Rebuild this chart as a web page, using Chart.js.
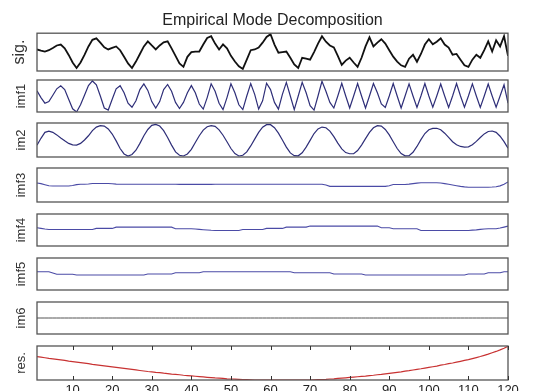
<!DOCTYPE html>
<html><head><meta charset="utf-8">
<script src="https://cdn.jsdelivr.net/npm/chart.js@4.4.1/dist/chart.umd.min.js"></script>
<style>
html,body{margin:0;padding:0;background:#fff;overflow:hidden;width:536px;height:391px;position:relative;}
canvas{position:absolute;left:0;}
</style></head><body>
<script>
// ---- data ----
const samples = Array.from({length: 120}, (_, i) => i + 1);
const xTickLabels = [10, 20, 30, 40, 50, 60, 70, 80, 90, 100, 110, 120];
const panelLabels = ['sig.', 'imf1', 'im2', 'imf3', 'imf4', 'imf5', 'im6', 'res.'];
const titleText = 'Empirical Mode Decomposition';

const sig = [0.14,0.08,0.03,0.10,0.22,0.35,0.40,0.20,-0.15,-0.55,
-0.84,-0.55,-0.15,0.30,0.65,0.73,0.50,0.25,0.14,0.22,
0.30,0.10,-0.25,-0.60,-0.84,-0.50,-0.10,0.30,0.57,0.35,
0.14,0.35,0.52,0.57,0.20,-0.20,-0.60,-0.78,-0.25,0.00,
0.03,0.03,0.40,0.75,0.84,0.45,0.14,0.41,0.20,-0.20,
-0.50,-0.75,-0.89,-0.40,0.10,0.14,0.24,0.50,0.80,0.95,
0.40,-0.03,0.00,0.03,-0.30,-0.65,-0.84,-0.30,-0.35,-0.40,
0.00,0.45,0.84,0.55,0.35,0.25,-0.20,-0.68,-0.45,-0.30,
-0.55,-0.78,-0.30,0.30,0.78,0.30,0.50,0.68,0.45,0.10,
-0.24,-0.50,-0.70,-0.78,-0.35,-0.14,-0.51,-0.10,0.40,0.68,
0.41,0.55,0.73,0.40,0.24,-0.14,-0.10,-0.40,-0.70,-0.78,
-0.40,-0.14,-0.30,0.10,0.57,0.03,0.62,0.30,0.84,-0.20];

const imf1 = [0.33,-0.10,-0.45,-0.35,0.05,0.45,0.64,0.40,-0.20,-0.80,
-1.00,-0.55,0.05,0.65,0.94,0.70,0.00,-0.75,-0.88,-0.20,
0.45,0.64,0.20,-0.45,-0.70,-0.30,0.40,0.76,0.35,-0.35,
-0.76,-0.35,0.40,0.72,0.30,-0.40,-0.78,-0.40,0.20,0.65,
0.20,-0.50,-0.82,-0.10,0.76,0.30,-0.45,-0.85,-0.10,0.76,
0.20,-0.55,-0.85,0.00,0.78,0.10,-0.82,-0.30,0.80,0.40,
-0.40,-0.82,0.10,0.85,0.00,-0.85,0.00,0.85,0.20,-0.60,
-0.88,0.00,0.92,0.30,-0.40,-0.75,0.00,0.80,0.00,-0.75,
0.00,0.78,0.00,-0.75,0.00,0.78,0.20,-0.50,-0.72,0.00,
0.78,0.00,-0.75,0.00,0.76,0.00,-0.72,0.00,0.78,0.00,
-0.70,0.00,0.75,0.00,-0.72,0.00,0.78,0.00,-0.70,0.00,
0.76,0.00,-0.72,0.00,0.75,0.00,-0.70,0.00,0.70,-0.45];

const imf2 = [-0.30,0.10,0.45,0.52,0.45,0.30,0.12,-0.05,-0.20,-0.29,
-0.30,-0.20,0.00,0.25,0.55,0.76,0.84,0.82,0.65,0.35,
-0.05,-0.50,-0.82,-0.94,-0.85,-0.60,-0.20,0.25,0.62,0.86,
0.92,0.82,0.55,0.15,-0.30,-0.70,-0.90,-0.94,-0.82,-0.55,
-0.15,0.25,0.58,0.78,0.84,0.80,0.60,0.28,-0.10,-0.50,
-0.80,-0.94,-0.90,-0.70,-0.35,0.05,0.45,0.75,0.90,0.90,
0.72,0.40,0.00,-0.42,-0.76,-0.92,-0.93,-0.75,-0.42,-0.02,
0.38,0.65,0.76,0.72,0.52,0.20,-0.18,-0.52,-0.74,-0.81,
-0.80,-0.62,-0.30,0.08,0.45,0.72,0.84,0.82,0.62,0.30,
-0.10,-0.50,-0.80,-0.93,-0.92,-0.72,-0.38,0.02,0.38,0.60,
0.68,0.69,0.60,0.40,0.15,-0.10,-0.28,-0.38,-0.42,-0.40,
-0.28,-0.08,0.15,0.36,0.50,0.53,0.45,0.22,-0.10,-0.48];

const imf3 = [0.12,0.08,0.02,-0.04,-0.06,-0.06,-0.06,-0.06,-0.06,-0.03,
0.02,0.04,0.04,0.06,0.09,0.09,0.09,0.09,0.09,0.07,
0.05,0.04,0.04,0.04,0.04,0.04,0.04,0.04,0.04,0.04,
0.04,0.04,0.04,0.04,0.04,0.04,0.035,0.035,0.035,0.035,
0.035,0.035,0.035,0.035,0.035,0.045,0.045,0.045,0.045,0.045,
0.045,0.045,0.045,0.045,0.045,0.045,0.04,0.04,0.04,0.04,
0.04,0.04,0.04,0.04,0.04,0.045,0.045,0.045,0.045,0.045,
0.045,0.045,0.045,0.00,-0.08,-0.08,-0.08,-0.08,-0.08,-0.08,
-0.08,-0.08,-0.08,-0.08,-0.08,-0.08,-0.08,-0.08,-0.08,-0.04,
0.03,0.03,0.03,0.03,0.05,0.08,0.11,0.13,0.13,0.13,
0.13,0.13,0.12,0.08,0.04,0.00,-0.04,-0.08,-0.11,-0.13,
-0.13,-0.13,-0.13,-0.13,-0.13,-0.12,-0.10,-0.05,0.05,0.18];

const imf4 = [0.14,0.10,0.06,0.03,0.03,0.03,0.03,0.03,0.03,0.03,
0.03,0.03,0.03,0.03,0.03,0.10,0.10,0.10,0.10,0.10,
0.18,0.18,0.18,0.18,0.18,0.18,0.18,0.18,0.18,0.18,
0.18,0.18,0.18,0.18,0.18,0.08,0.08,0.08,0.08,0.08,
0.06,0.04,0.02,0.00,-0.02,-0.03,-0.03,-0.03,-0.03,-0.03,
-0.03,-0.03,0.03,0.03,0.03,0.03,0.03,0.03,0.10,0.10,
0.10,0.10,0.10,0.18,0.18,0.18,0.18,0.18,0.18,0.245,
0.245,0.245,0.245,0.245,0.245,0.245,0.245,0.245,0.245,0.245,
0.245,0.245,0.245,0.245,0.245,0.245,0.245,0.14,0.14,0.14,
0.08,0.08,0.08,0.08,0.08,0.08,0.08,-0.03,-0.03,-0.03,
-0.03,-0.03,-0.03,-0.03,-0.03,-0.03,-0.03,-0.03,-0.03,-0.03,
-0.01,0.01,0.04,0.06,0.08,0.08,0.08,0.12,0.18,0.245];

const imf5 = [0.14,0.14,0.14,0.14,0.06,-0.02,-0.02,-0.02,-0.02,-0.02,
-0.06,-0.06,-0.06,-0.06,-0.06,-0.06,-0.06,-0.06,-0.06,-0.06,
-0.06,-0.06,-0.06,-0.06,-0.06,-0.06,-0.06,-0.06,0.00,0.00,
0.00,0.00,0.00,0.00,0.00,0.08,0.08,0.08,0.08,0.08,
0.08,0.08,0.14,0.14,0.14,0.14,0.14,0.14,0.14,0.14,
0.14,0.14,0.14,0.14,0.14,0.14,0.14,0.14,0.14,0.14,
0.14,0.14,0.14,0.14,0.14,0.08,0.08,0.08,0.08,0.08,
0.08,0.08,0.08,0.08,0.08,0.00,0.00,0.00,0.00,0.00,
0.00,0.00,0.00,-0.06,-0.06,-0.06,-0.06,-0.06,-0.06,-0.06,
-0.06,-0.06,-0.06,-0.06,-0.06,-0.06,-0.06,-0.06,-0.06,-0.06,
-0.06,-0.06,-0.06,-0.06,-0.06,-0.06,-0.06,-0.06,-0.06,0.00,
0.00,0.00,0.00,0.00,0.08,0.08,0.08,0.08,0.14,0.14];

const imf6 = [0,0,0,0,0,0,0,0,0,0, 0,0,0,0,0,0,0,0,0,0,
0,0,0,0,0,0,0,0,0,0, 0,0,0,0,0,0,0,0,0,0,
0,0,0,0,0,0,0,0,0,0, 0,0,0,0,0,0,0,0,0,0,
0,0,0,0,0,0,0,0,0,0, 0,0,0,0,0,0,0,0,0,0,
0,0,0,0,0,0,0,0,0,0, 0,0,0,0,0,0,0,0,0,0,
0,0,0,0,0,0,0,0,0,0, 0,0,0,0,0,0,0,0,0,0];

const res = [0.37,0.34,0.31,0.27,0.24,0.21,0.18,0.15,0.11,0.08,
0.05,0.02,-0.01,-0.04,-0.08,-0.11,-0.14,-0.17,-0.20,-0.23,
-0.26,-0.29,-0.32,-0.35,-0.38,-0.41,-0.44,-0.47,-0.50,-0.52,
-0.55,-0.57,-0.60,-0.62,-0.65,-0.67,-0.69,-0.72,-0.74,-0.76,
-0.78,-0.80,-0.82,-0.84,-0.86,-0.88,-0.89,-0.91,-0.93,-0.94,
-0.95,-0.96,-0.97,-0.98,-0.99,-1.00,-1.00,-1.00,-1.00,-1.00,
-1.00,-1.00,-1.00,-1.00,-1.00,-1.00,-1.00,-1.00,-1.00,-1.00,
-0.99,-0.98,-0.97,-0.96,-0.94,-0.93,-0.91,-0.89,-0.87,-0.85,
-0.83,-0.81,-0.79,-0.77,-0.74,-0.72,-0.69,-0.67,-0.64,-0.61,
-0.58,-0.55,-0.52,-0.48,-0.45,-0.41,-0.37,-0.34,-0.30,-0.26,
-0.22,-0.18,-0.13,-0.09,-0.04,0.00,0.05,0.10,0.15,0.20,
0.26,0.32,0.38,0.45,0.52,0.60,0.68,0.77,0.87,0.98];

// ---- drawing ----
const FONT = '"Liberation Sans", Arial, Helvetica, sans-serif';
const W = 536, AREA_LEFT = 37, AREA_RIGHT = 508;

const boxPlugin = {
  id: 'box',
  afterDatasetsDraw(chart, args, opts) {
    const {ctx, chartArea: a} = chart;
    ctx.save();
    ctx.strokeStyle = '#555';
    ctx.lineWidth = 1.3;
    ctx.strokeRect(a.left, a.top, a.width, a.height);
    if (opts.ticks) {
      const xs = chart.scales.x;
      ctx.lineWidth = 1;
      ctx.strokeStyle = '#333';
      opts.ticks.forEach(v => {
        const px = Math.round(xs.getPixelForValue(v)) + 0.5;
        ctx.beginPath();
        ctx.moveTo(px, a.top); ctx.lineTo(px, a.top + 4);
        ctx.moveTo(px, a.bottom); ctx.lineTo(px, a.bottom - 4);
        ctx.stroke();
      });
    }
    ctx.restore();
  }
};

function panel(p) {
  const cv = document.createElement('canvas');
  cv.width = W; cv.height = p.ch;
  cv.style.top = p.ct + 'px';
  cv.style.width = W + 'px'; cv.style.height = p.ch + 'px';
  document.body.appendChild(cv);
  const isRes = !!p.xAxis;
  new Chart(cv, {
    type: 'line',
    data: {
      datasets: [{
        data: p.values.map((v, i) => ({x: samples[i], y: v})),
        borderColor: p.color,
        borderWidth: p.lw,
        pointRadius: 0,
        tension: 0,
        fill: false
      }]
    },
    options: {
      responsive: false,
      animation: false,
      events: [],
      layout: {padding: {top: p.pt, bottom: p.pb, left: 0, right: W - AREA_RIGHT}},
      plugins: {
        legend: {display: false},
        tooltip: {enabled: false},
        title: p.title ? {
          display: true, text: p.title, fullSize: false, color: '#222',
          font: {family: FONT, size: 16, weight: 'normal'},
          padding: {top: 11, bottom: 3}
        } : {display: false},
        box: {ticks: isRes ? xTickLabels : null}
      },
      scales: {
        x: {
          type: 'linear', min: 1, max: 120,
          display: isRes,
          afterBuildTicks: (s) => { s.ticks = xTickLabels.map(v => ({value: v})); },
          afterFit: (s) => { s.height = isRes ? 14 : 0; },
          grid: {display: false, drawTicks: false},
          border: {display: false},
          ticks: {
            autoSkip: false, maxRotation: 0, padding: 3, color: '#222',
            font: {family: FONT, size: 13}
          }
        },
        y: {
          min: -1, max: 1,
          afterFit: (s) => { s.width = AREA_LEFT; },
          grid: {display: false, drawTicks: false},
          border: {display: false},
          ticks: {display: false},
          title: {
            display: true, text: p.label, color: '#333',
            font: {family: FONT, size: p.fs},
            padding: {top: p.tp, bottom: 0}
          }
        }
      }
    },
    plugins: [boxPlugin]
  });
}

const navy = '#2e2e78';
const lite = '#4b4ba6';
panel({label: panelLabels[0], values: sig,  color: '#111', lw: 1.8, ct: 0,   ch: 73, pt: 0, pb: 2, fs: 16, tp: 10, title: titleText});
panel({label: panelLabels[1], values: imf1, color: navy, lw: 1.2, ct: 78,  ch: 36, pt: 2, pb: 2, fs: 13, tp: 14});
panel({label: panelLabels[2], values: imf2, color: navy, lw: 1.2, ct: 121, ch: 38, pt: 2, pb: 2, fs: 13, tp: 14});
panel({label: panelLabels[3], values: imf3, color: lite, lw: 1.1, ct: 166, ch: 38, pt: 2, pb: 2, fs: 13, tp: 14});
panel({label: panelLabels[4], values: imf4, color: lite, lw: 1.1, ct: 212, ch: 36, pt: 2, pb: 2, fs: 13, tp: 14});
panel({label: panelLabels[5], values: imf5, color: lite, lw: 1.1, ct: 256, ch: 36, pt: 2, pb: 2, fs: 13, tp: 14});
panel({label: panelLabels[6], values: imf6, color: '#555', lw: 1.0, ct: 300, ch: 36, pt: 2, pb: 2, fs: 13, tp: 14});
panel({label: panelLabels[7], values: res,  color: '#c83232', lw: 1.2, ct: 344, ch: 50, pt: 2, pb: 0, fs: 13, tp: 14, xAxis: true});
</script>
</body></html>
